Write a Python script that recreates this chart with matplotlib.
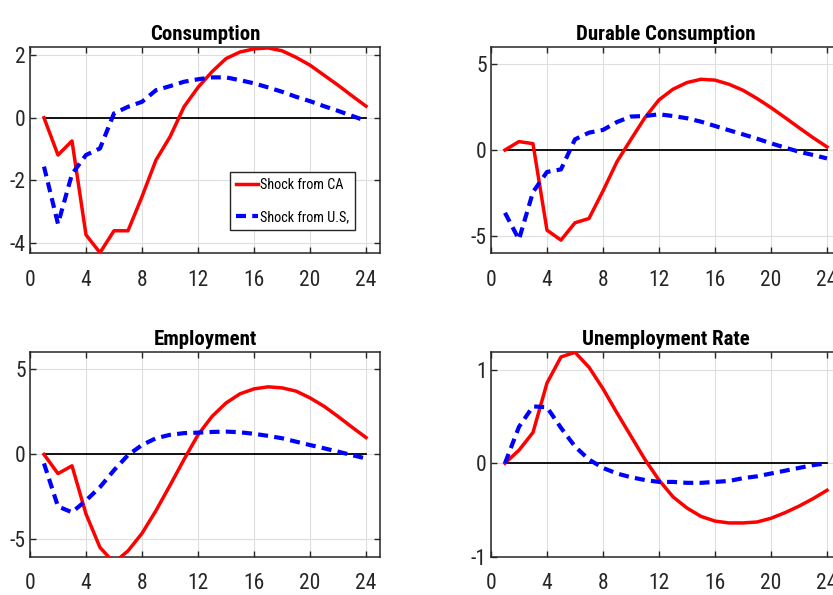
import matplotlib
matplotlib.use("Agg")
import matplotlib.pyplot as plt
import numpy as np

plt.rcParams['font.family'] = ['Roboto Condensed', 'DejaVu Sans']
plt.rcParams['axes.unicode_minus'] = False

horizon = list(range(1, 25))

titles = ["Consumption", "Durable Consumption", "Employment", "Unemployment Rate"]
legend_labels = ["Shock from CA", "Shock from U.S,"]

cons_ca = [0, -1.19, -0.74, -3.74, -4.31, -3.61, -3.61, -2.52, -1.35, -0.61, 0.35, 0.97,
           1.47, 1.89, 2.10, 2.20, 2.23, 2.14, 1.93, 1.68, 1.36, 1.04, 0.70, 0.37]
cons_us = [-1.56, -3.39, -1.80, -1.19, -0.98, 0.14, 0.35, 0.51, 0.88, 1.01, 1.15, 1.23,
           1.29, 1.29, 1.20, 1.10, 0.97, 0.83, 0.67, 0.53, 0.37, 0.22, 0.06, -0.10]

dur_ca = [0, 0.49, 0.37, -4.67, -5.25, -4.24, -3.99, -2.39, -0.68, 0.62, 1.89, 2.92,
          3.54, 3.93, 4.12, 4.07, 3.83, 3.48, 3.00, 2.47, 1.89, 1.30, 0.72, 0.18]
dur_us = [-3.66, -5.21, -2.45, -1.28, -1.13, 0.62, 1.01, 1.17, 1.63, 1.95, 1.98, 2.08,
          1.98, 1.85, 1.65, 1.40, 1.15, 0.91, 0.66, 0.39, 0.14, -0.10, -0.29, -0.49]

emp_ca = [0, -1.13, -0.67, -3.50, -5.47, -6.36, -5.67, -4.64, -3.30, -1.82, -0.30, 1.15,
          2.23, 3.02, 3.56, 3.85, 3.97, 3.91, 3.72, 3.32, 2.83, 2.23, 1.60, 0.99]
emp_us = [-0.53, -3.06, -3.40, -2.71, -1.92, -0.93, -0.04, 0.55, 0.95, 1.15, 1.25, 1.28,
          1.32, 1.34, 1.30, 1.21, 1.09, 0.95, 0.75, 0.55, 0.36, 0.16, -0.04, -0.24]

unemp_ca = [0, 0.14, 0.33, 0.86, 1.14, 1.19, 1.03, 0.80, 0.54, 0.29, 0.04, -0.18,
            -0.36, -0.48, -0.57, -0.62, -0.64, -0.64, -0.63, -0.59, -0.53, -0.46, -0.38, -0.29]
unemp_us = [0, 0.39, 0.61, 0.60, 0.38, 0.18, 0.04, -0.05, -0.11, -0.15, -0.18, -0.20,
            -0.20, -0.21, -0.21, -0.20, -0.19, -0.16, -0.14, -0.11, -0.08, -0.05, -0.02, 0.0]

x_ticks = [0, 4, 8, 12, 16, 20, 24]
y_ticks = [[-4, -2, 0, 2], [-5, 0, 5], [-5, 0, 5], [-1, 0, 1]]
y_limits = [None, (-6, 6), (-6, 6), (-1, 1.19)]

ca_series = [cons_ca, dur_ca, emp_ca, unemp_ca]
us_series = [cons_us, dur_us, emp_us, unemp_us]

fig = plt.figure(figsize=(8.33, 5.95), dpi=100)
positions = [
    [0.036, 0.5748, 0.4202, 0.3462],
    [0.5894, 0.5748, 0.4202, 0.3462],
    [0.036, 0.0647, 0.4202, 0.3432],
    [0.5894, 0.0647, 0.4202, 0.3432],
]

for i in range(4):
    ax = fig.add_axes(positions[i])
    ax.grid(True, color='#dedede', linewidth=0.8)
    ax.set_axisbelow(True)
    ax.plot(horizon, np.zeros(len(horizon)), color='black', linewidth=1.3, zorder=2)
    l1, = ax.plot(horizon, ca_series[i], color='#ff0000', linewidth=2.5, zorder=3,
                  label=legend_labels[0])
    l2, = ax.plot(horizon, us_series[i], color='#0000ff', linewidth=3.0, zorder=4,
                  linestyle=(0, (2.4, 1.5)), label=legend_labels[1])
    ax.set_xlim(0, 25)
    ax.set_xticks(x_ticks)
    ax.set_yticks(y_ticks[i])
    if y_limits[i] is None:
        allv = ca_series[i] + us_series[i]
        ax.set_ylim(min(allv) - 0.01, max(allv) + 0.03)
    else:
        ax.set_ylim(*y_limits[i])
    ax.tick_params(direction='in', length=4, width=1, colors='#262626',
                   top=True, right=True, labelsize=15.5)
    ax.tick_params(axis='x', pad=12)
    ax.tick_params(axis='y', pad=3)
    for sp in ax.spines.values():
        sp.set_color('#262626')
        sp.set_linewidth(1.1)
    ax.set_title(titles[i], fontsize=15, fontweight='bold', pad=5)
    if i == 0:
        leg = ax.legend(handles=[l1, l2], loc='center',
                        bbox_to_anchor=(0.75, 0.2525),
                        fontsize=10.3, fancybox=False,
                        edgecolor='#262626', framealpha=1, handlelength=1.55,
                        handletextpad=0.15, borderaxespad=0, borderpad=0.4,
                        labelspacing=1.25)
        leg.get_frame().set_linewidth(1.0)

fig.savefig("out.png", dpi=100)
